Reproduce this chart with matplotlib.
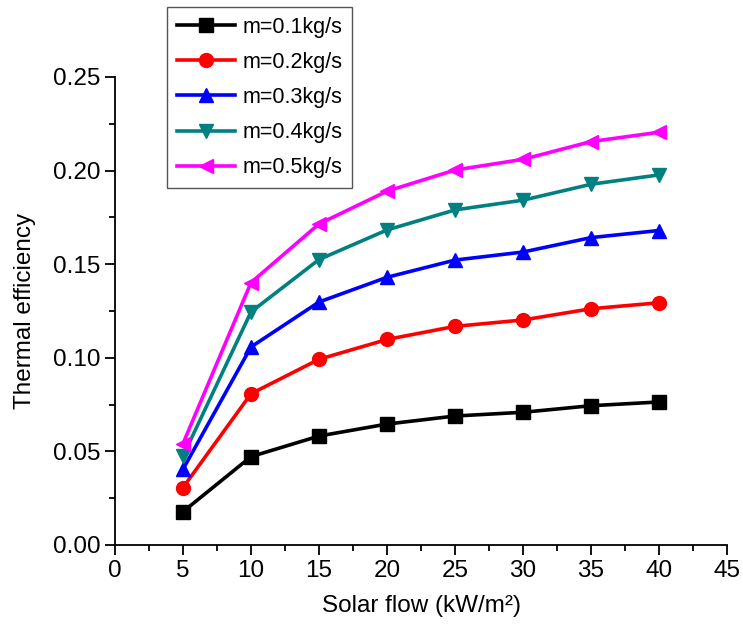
import matplotlib
matplotlib.use("Agg")
import matplotlib.pyplot as plt
from matplotlib.ticker import MultipleLocator

plt.rcParams['font.family'] = ['Liberation Sans', 'DejaVu Sans']

solar_flow = [5, 10, 15, 20, 25, 30, 35, 40]
eff_01 = [0.0178, 0.0472, 0.0582, 0.0646, 0.0689, 0.0709, 0.0744, 0.0764]
eff_02 = [0.0307, 0.0808, 0.0992, 0.1098, 0.1168, 0.1202, 0.1262, 0.1294]
eff_03 = [0.0405, 0.1058, 0.1298, 0.1430, 0.1522, 0.1565, 0.1642, 0.1680]
eff_04 = [0.0475, 0.1245, 0.1525, 0.1683, 0.1790, 0.1842, 0.1927, 0.1977]
eff_05 = [0.0542, 0.1402, 0.1715, 0.1890, 0.2003, 0.2060, 0.2155, 0.2205]
labels = ['m=0.1kg/s', 'm=0.2kg/s', 'm=0.3kg/s', 'm=0.4kg/s', 'm=0.5kg/s']

series = [eff_01, eff_02, eff_03, eff_04, eff_05]
colors = ['black', '#ff0000', '#0000ff', '#008080', '#ff00ff']
markers = ['s', 'o', '^', 'v', '<']

fig = plt.figure(figsize=(7.43, 6.26), dpi=100)
ax = fig.add_axes([0.1548, 0.1294, 0.8237, 0.7476])

for y, c, m, lab in zip(series, colors, markers, labels):
    ax.plot(solar_flow, y, color=c, marker=m, markersize=10, linewidth=2.6, label=lab)

ax.set_xlim(0, 45)
ax.set_ylim(0, 0.25)
ax.xaxis.set_major_locator(MultipleLocator(5))
ax.xaxis.set_minor_locator(MultipleLocator(2.5))
ax.yaxis.set_major_locator(MultipleLocator(0.05))
ax.yaxis.set_minor_locator(MultipleLocator(0.025))
ax.yaxis.set_major_formatter(plt.FormatStrFormatter('%.2f'))
ax.spines['top'].set_visible(False)
ax.spines['right'].set_visible(False)
for s in ['left', 'bottom']:
    ax.spines[s].set_linewidth(1.3)
ax.tick_params(which='major', direction='out', length=7, width=1.3, labelsize=17.5)
ax.tick_params(which='minor', direction='out', length=4, width=1.3)

ax.set_xlabel('Solar flow (kW/m²)', fontsize=17.5, labelpad=10)
ax.set_ylabel('Thermal efficiency', fontsize=17.5, labelpad=12)

leg = fig.legend(loc='upper left', bbox_to_anchor=(0.2248, 0.989),
                 bbox_transform=fig.transFigure, fontsize=15.5, fancybox=False,
                 edgecolor='#555555', framealpha=1, handlelength=2.7,
                 labelspacing=0.66, borderpad=0.45, borderaxespad=0,
                 handletextpad=0.35)
leg.get_frame().set_linewidth(1.0)

fig.savefig('out.png', dpi=100)
